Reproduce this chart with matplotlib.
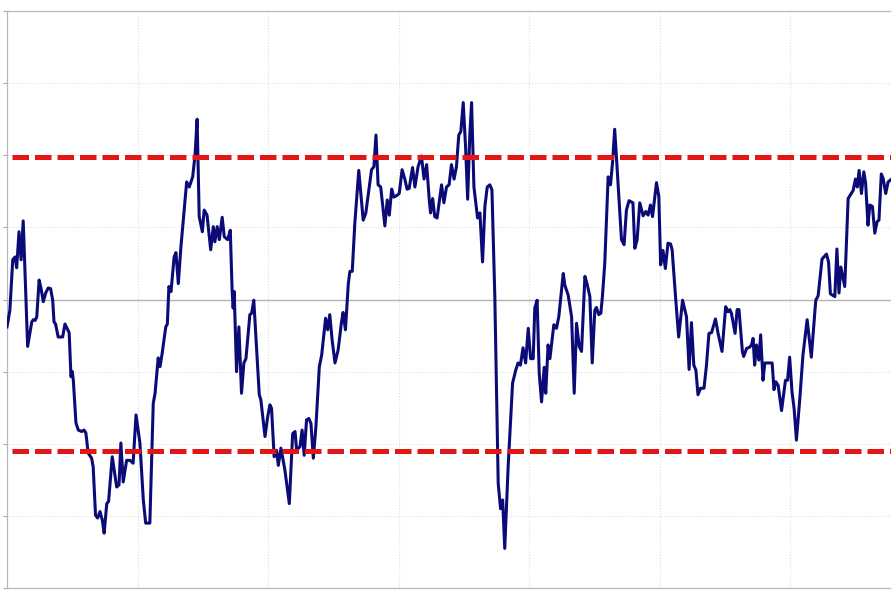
from matplotlib import pyplot as plt
import numpy as np

# traced series (x in days, y as z-score)
days = [0.0, 1.1, 2.2, 3.1, 3.7, 4.6, 5.4, 6.2, 7.9, 9.5, 10.1, 10.8, 11.4, 12.3, 13.0,
        13.9, 14.8, 15.8, 16.7, 17.5, 18.0, 18.6, 19.6, 21.3, 22.2, 23.8, 24.5, 25.0, 25.4,
        26.4, 27.3, 28.6, 29.5, 30.2, 31.1, 32.4, 33.0, 33.9, 34.7, 35.6, 36.5, 37.2, 38.2,
        38.9, 40.3, 42.0, 42.9, 43.6, 44.5, 45.8, 47.1, 48.3, 49.4, 50.9, 52.2, 53.1, 54.7,
        56.0, 56.7, 57.9, 58.6, 59.4, 60.8, 61.4, 62.0, 62.8, 64.0, 64.7, 65.6, 66.6, 68.8,
        69.8, 71.1, 72.0, 72.8, 73.6, 74.8, 75.5, 76.6, 78.0, 79.0, 79.6, 80.5, 81.3, 82.4,
        83.2, 84.5, 85.5, 86.2, 86.6, 87.0, 87.9, 88.8, 89.8, 90.7, 91.5, 93.0, 93.7, 94.5,
        96.6, 97.2, 98.8, 99.8, 100.7, 101.3, 102.3, 103.2, 103.9, 104.9, 106.4, 108.1,
        109.4, 110.3, 110.9, 112.2, 113.0, 113.8, 114.7, 115.6, 116.4, 117.3, 118.3, 119.6,
        120.5, 122.0, 122.8, 123.6, 124.5, 125.6, 126.8, 128.1, 128.7, 129.6, 130.7, 131.3,
        132.2, 133.2, 134.7, 136.4, 137.4, 139.6, 140.5, 141.3, 142.1, 143.1, 144.7, 145.6,
        146.4, 147.3, 148.1, 149.2, 150.2, 151.3, 152.4, 153.2, 154.0, 155.3, 156.2, 157.4,
        158.7, 159.7, 160.7, 161.7, 162.2, 163.0, 163.8, 164.7, 166.4, 167.3, 168.3, 169.3,
        170.2, 171.2, 172.1, 173.0, 173.8, 174.7, 175.6, 176.4, 177.2, 177.9, 178.8, 180.2,
        181.1, 182.1, 183.0, 183.9, 184.9, 185.7, 186.8, 188.1, 189.0, 189.8, 190.6, 191.9,
        193.6, 194.8, 195.7, 196.6, 197.6, 198.6, 199.6, 200.5, 201.5, 202.1, 203.0, 203.8,
        204.7, 205.7, 206.3, 207.2, 207.9, 209.4, 210.4, 211.3, 213.0, 213.6, 214.9, 216.2,
        217.2, 218.1, 219.1, 220.0, 221.3, 222.1, 223.2, 224.1, 225.1, 225.7, 226.6, 227.4,
        228.0, 228.9, 230.2, 231.1, 231.9, 232.7, 233.6, 235.3, 236.3, 237.2, 238.2, 239.7,
        240.4, 241.3, 242.3, 243.6, 244.6, 245.5, 246.4, 247.2, 248.7, 249.6, 250.3, 251.2,
        252.1, 253.1, 254.1, 254.7, 256.0, 257.2, 258.7, 260.2, 261.2, 262.1, 263.0, 263.8,
        264.6, 265.6, 266.9, 267.8, 268.8, 269.8, 271.3, 272.3, 273.8, 275.2, 276.1, 276.8,
        277.4, 278.8, 279.6, 280.3, 281.6, 282.1, 283.2, 284.4, 285.1, 285.7, 286.3, 287.0,
        287.9, 288.6, 289.5, 290.2, 291.7, 293.0, 293.7, 294.4, 295.3, 296.6, 298.1, 298.9,
        299.7, 300.6, 301.4, 302.3, 303.6, 304.8, 306.4, 308.0, 309.7, 310.6, 312.1, 313.8,
        314.6, 315.3, 317.0, 317.8, 318.6, 319.3, 320.8, 322.1, 324.0, 324.9, 325.6, 326.3,
        327.2, 328.1, 328.8, 329.7, 330.4, 331.4, 332.3, 333.2, 333.9, 334.8, 335.5, 336.5,
        337.4, 338.4]
zscore = [-0.38, -0.15, 0.55, 0.59, 0.44, 0.94, 0.55, 1.09, -0.65, -0.31, -0.28, -0.29,
          -0.24, 0.27, 0.16, -0.03, 0.09, 0.16, 0.15, -0.01, -0.31, -0.34, -0.52, -0.52,
          -0.34, -0.46, -1.07, -1.00, -1.12, -1.71, -1.81, -1.83, -1.81, -1.85, -2.13, -2.20,
          -2.32, -2.99, -3.03, -2.94, -3.06, -3.24, -2.83, -2.80, -2.18, -2.60, -2.57, -1.99,
          -2.53, -2.23, -2.23, -2.27, -1.60, -1.99, -2.78, -3.10, -3.10, -1.44, -1.30, -0.81,
          -0.93, -0.75, -0.38, -0.34, 0.18, 0.11, 0.59, 0.65, 0.22, 0.73, 1.63, 1.56, 1.70,
          2.00, 2.50, 1.15, 0.94, 1.24, 1.17, 0.69, 1.01, 0.80, 1.01, 0.83, 1.14, 0.87, 0.83,
          0.96, 0.13, -0.12, 0.11, -1.00, -0.38, -1.30, -0.88, -0.82, -0.21, -0.19, -0.01,
          -1.32, -1.39, -1.90, -1.63, -1.46, -1.51, -2.18, -2.09, -2.30, -2.06, -2.36, -2.83,
          -1.86, -1.83, -2.09, -2.04, -1.81, -2.16, -1.67, -1.65, -1.72, -2.20, -1.76, -0.93,
          -0.77, -0.26, -0.42, -0.21, -0.56, -0.88, -0.70, -0.31, -0.18, -0.42, 0.22, 0.39,
          0.39, 1.06, 1.79, 1.10, 1.20, 1.80, 1.84, 2.28, 1.59, 1.56, 1.02, 1.38, 1.17, 1.53,
          1.42, 1.44, 1.47, 1.80, 1.66, 1.53, 1.54, 1.83, 1.56, 1.84, 1.99, 1.67, 1.87, 1.38,
          1.20, 1.40, 1.15, 1.13, 1.59, 1.34, 1.56, 1.59, 1.87, 1.67, 1.84, 2.28, 2.33, 2.73,
          2.12, 1.39, 2.26, 2.73, 1.56, 1.13, 1.20, 0.52, 1.29, 1.56, 1.59, 1.52, 0.04, -2.55,
          -2.90, -2.78, -3.45, -2.32, -1.16, -0.98, -0.88, -0.91, -0.67, -0.88, -0.40, -0.82,
          -0.82, -0.12, -0.01, -1.02, -1.42, -0.94, -1.30, -0.63, -0.82, -0.35, -0.40, -0.24,
          0.36, 0.20, 0.06, -0.24, -1.30, -0.33, -0.65, -0.72, 0.32, 0.22, 0.04, -0.88, -0.15,
          -0.11, -0.21, -0.19, 0.04, 0.50, 1.70, 1.59, 1.91, 2.36, 1.84, 0.83, 0.76, 1.24,
          1.37, 1.34, 0.71, 0.83, 1.34, 1.16, 1.22, 1.17, 1.31, 1.15, 1.62, 1.43, 0.48, 0.68,
          0.43, 0.78, 0.77, 0.69, 0.04, -0.52, -0.01, -0.24, -0.97, -0.32, -0.91, -0.98,
          -1.32, -1.23, -1.23, -0.93, -0.47, -0.46, -0.27, -0.47, -0.72, -0.10, -0.17, -0.14,
          -0.19, -0.47, -0.14, -0.14, -0.72, -0.79, -0.68, -0.66, -0.63, -0.54, -0.91, -0.63,
          -0.84, -0.49, -1.12, -0.88, -0.88, -0.88, -1.25, -1.14, -1.19, -1.54, -1.12, -1.12,
          -0.80, -1.28, -1.51, -1.95, -1.37, -0.77, -0.28, -0.80, -0.01, 0.05, 0.56, 0.63,
          0.52, 0.08, 0.04, 0.70, 0.09, 0.45, 0.18, 1.40, 1.51, 1.67, 1.56, 1.79, 1.47, 1.77,
          1.61, 1.03, 1.31, 1.29, 0.92, 1.08, 1.10, 1.74, 1.68, 1.47, 1.63, 1.66]

upper_band = 1.97
lower_band = -2.10

if __name__ == '__main__':
    figure = plt.figure(figsize=(8.91, 5.91), dpi=100)
    # chart is cropped: right spine and tick labels fall outside the image
    axes = figure.add_axes([7 / 891, 3 / 591, 914 / 891, 577 / 591])

    axes.plot(days, zscore, color='#0b0b78', linewidth=2.2, zorder=3)
    axes.axhline(0, color='#b5b5b5', linewidth=1.0, zorder=2)
    axes.axhline(upper_band, xmin=0.006, color='#e41515', linewidth=3.6,
                 linestyle=(0, (3.3, 1.2)), zorder=4)
    axes.axhline(lower_band, xmin=0.006, color='#e41515', linewidth=3.6,
                 linestyle=(0, (3.3, 1.2)), zorder=4)

    axes.set_xlim(0, 350)
    axes.set_ylim(-4, 4)
    axes.set_xticks(np.arange(0, 351, 50))
    axes.set_yticks(np.arange(-4, 5, 1))
    axes.grid(True, color='#dedede', linestyle=':', linewidth=0.8, zorder=0)
    axes.tick_params(axis='y', length=3, color='#aaaaaa', labelleft=False)
    axes.tick_params(axis='x', length=0, labelbottom=False)
    for spine in axes.spines.values():
        spine.set_color('#b8b8b8')
        spine.set_linewidth(0.9)

    figure.savefig('out.png', dpi=100)
